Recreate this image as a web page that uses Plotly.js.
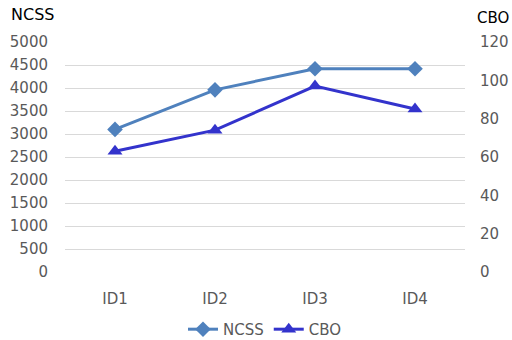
<!DOCTYPE html>
<html><head><meta charset="utf-8">
<script src="https://cdn.plot.ly/plotly-3.0.1.min.js"></script>
<style>html,body{margin:0;padding:0;background:#fff}#chart{width:512px;height:340px}</style>
</head><body><div id="chart"></div>
<script>
const categories = ["ID1", "ID2", "ID3", "ID4"];
const ncssValues = [3100, 3960, 4420, 4420];
const cboValues = [63, 74, 97, 85];
const leftTicks = [0, 500, 1000, 1500, 2000, 2500, 3000, 3500, 4000, 4500, 5000];
const rightTicks = [0, 20, 40, 60, 80, 100, 120];

const font = "DejaVu Sans, Verdana, sans-serif";
const traces = [
  {x: categories, y: ncssValues, name: "NCSS", type: "scatter", mode: "lines+markers",
   line: {color: "#4f81bd", width: 3}, marker: {symbol: "diamond", size: 12, color: "#4f81bd"}, yaxis: "y"},
  {x: categories, y: cboValues, name: "CBO", type: "scatter", mode: "lines+markers",
   line: {color: "#3333cc", width: 3}, marker: {symbol: "triangle-up", size: 13, color: "#3333cc"}, yaxis: "y2"}
];
const layout = {
  width: 512, height: 340,
  margin: {l: 65, r: 47, t: 42, b: 68, autoexpand: false},
  paper_bgcolor: "#fff", plot_bgcolor: "#fff",
  font: {family: font, size: 15, color: "#595959"},
  showlegend: true,
  legend: {orientation: "h", x: 0.5, xanchor: "center", y: -0.178, yanchor: "top",
           font: {family: font, size: 15, color: "#595959"}, itemwidth: 30, tracegroupgap: 0},
  xaxis: {type: "category", range: [-0.5, 3.5], showgrid: false, zeroline: false, showline: false, automargin: false,
          ticks: "", ticklabelstandoff: 16, tickfont: {family: font, size: 15, color: "#595959"}},
  yaxis: {range: [0, 5000], tickvals: leftTicks, showgrid: true, gridcolor: "#d9d9d9", gridwidth: 1,
          zeroline: false, showline: false, ticks: "", ticklabelstandoff: 16, automargin: false,
          tickfont: {family: font, size: 15, color: "#595959"}},
  yaxis2: {range: [0, 120], tickvals: rightTicks, overlaying: "y", side: "right", showgrid: false,
           zeroline: false, showline: false, ticks: "", ticklabelstandoff: 14, automargin: false,
           tickfont: {family: font, size: 15, color: "#595959"}},
  annotations: [
    {text: "NCSS", xref: "paper", yref: "paper", x: -0.14, y: 1.07, xanchor: "left", yanchor: "bottom",
     showarrow: false, font: {family: font, size: 16, color: "#000"}},
    {text: "CBO", xref: "paper", yref: "paper", x: 1.025, y: 1.055, xanchor: "left", yanchor: "bottom",
     showarrow: false, font: {family: font, size: 15, color: "#000"}}
  ]
};
Plotly.newPlot("chart", traces, layout, {displayModeBar: false, staticPlot: true});
</script></body></html>
